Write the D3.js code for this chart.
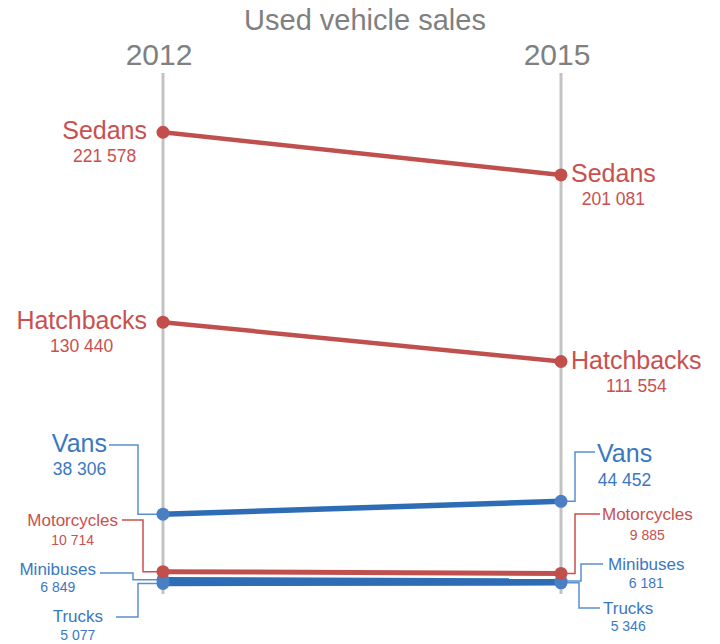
<!DOCTYPE html>
<html>
<head>
<meta charset="utf-8">
<script src="https://cdn.jsdelivr.net/npm/d3@7"></script>
<style>
  body { margin: 0; background: #fff; }
  svg { display: block; font-family: "Liberation Sans", Arial, sans-serif; }
</style>
</head>
<body>
<svg id="chart" width="720" height="644"></svg>
<script>
// data
var years = ["2012", "2015"];
var categories = ["Sedans", "Hatchbacks", "Vans", "Motorcycles", "Minibuses", "Trucks"];
var sales2012 = [221578, 130440, 38306, 10714, 6849, 5077];
var sales2015 = [201081, 111554, 44452, 9885, 6181, 5346];
var groups = ["car", "car", "van", "car", "van", "van"];

// styles / layout (not data)
var colors = { car: "#c0504d", van: "#2e6db5" };
var dotColors = { car: "#c24f4c", van: "#4a7fc4" };
var textColors = { car: "#c9504e", van: "#3a78c2" };
var leaderColors = { car: "#c9504e", van: "#5a8fd0" };
var lineWidths = [4.5, 4.5, 5.5, 5, 5.5, 5.5];
var nameSizes = [25, 25, 25, 17, 17, 17];
var valueSizes = [17.5, 17.5, 17.5, 14, 14, 14];
// leader callouts: ly = leader y, ex = elbow x, lx = leader end x, tx = text edge, nb/vb = baselines
var leftLeaders = {
  Vans:        { ly: 445, ex: 138, lx: 109, tx: 107, nb: 452, vb: 475 },
  Motorcycles: { ly: 520, ex: 143, lx: 122, tx: 118, nb: 526, vb: 545 },
  Minibuses:   { ly: 573, ex: 133, lx: 100, tx: 96,  nb: 575, vb: 592 },
  Trucks:      { ly: 617, ex: 138, lx: 116, tx: 103, nb: 622, vb: 640 }
};
var rightLeaders = {
  Vans:        { ly: 452, ex: 575, lx: 595, tx: 597, nb: 462, vb: 486 },
  Motorcycles: { ly: 514, ex: 575, lx: 600, tx: 602, nb: 520, vb: 540 },
  Minibuses:   { ly: 564, ex: 581, lx: 603, tx: 608, nb: 570, vb: 588 },
  Trucks:      { ly: 608, ex: 579, lx: 600, tx: 603, nb: 614, vb: 631 }
};

var svg = d3.select('#chart');
var x = d3.scalePoint().domain(years).range([163, 561]);
var y = d3.scaleLinear().domain([0, 250000]).range([594, 73]);
var fmt = function(v) { return d3.format(",")(v).replace(/,/g, " "); };

var series = categories.map(function(c, i) {
  return { name: c, group: groups[i], i: i, values: [sales2012[i], sales2015[i]] };
});

// title
svg.append('text')
  .attr('x', 365).attr('y', 30)
  .attr('text-anchor', 'middle')
  .attr('font-size', 29)
  .attr('fill', '#808080')
  .text('Used vehicle sales');

// year axes
var axes = svg.append('g');
years.forEach(function(yr) {
  axes.append('line')
    .attr('x1', x(yr)).attr('x2', x(yr))
    .attr('y1', y(250000)).attr('y2', y(0))
    .attr('stroke', '#c3c3c3').attr('stroke-width', 3);
  axes.append('text')
    .attr('x', x(yr) - 4).attr('y', 65)
    .attr('text-anchor', 'middle')
    .attr('font-size', 30)
    .attr('fill', '#808080')
    .text(yr);
});

// leaders
var leaderG = svg.append('g').attr('fill', 'none').attr('stroke-width', 1.5);
series.forEach(function(s) {
  [0, 1].forEach(function(k) {
    var L = (k === 0 ? leftLeaders : rightLeaders)[s.name];
    if (!L) return;
    var px = x(years[k]), py = y(s.values[k]);
    leaderG.append('path')
      .attr('d', `M${px},${py}H${L.ex}V${L.ly}H${L.lx}`)
      .attr('stroke', leaderColors[s.group]);
  });
});

// slope lines
var lineG = svg.append('g');
series.slice().reverse().forEach(function(s) {
  lineG.append('line')
    .attr('x1', x(years[0])).attr('y1', y(s.values[0]))
    .attr('x2', x(years[1])).attr('y2', y(s.values[1]))
    .attr('stroke', colors[s.group])
    .attr('stroke-width', lineWidths[s.i]);
});
series.slice().reverse().forEach(function(s) {
  lineG.selectAll(null).data(s.values).enter().append('circle')
    .attr('cx', function(d, k) { return x(years[k]); })
    .attr('cy', function(d) { return y(d); })
    .attr('r', 6.5)
    .attr('fill', dotColors[s.group]);
});

// labels
var labelG = svg.append('g');
function addLabel(s, k) {
  var leaders = k === 0 ? leftLeaders : rightLeaders;
  var L = leaders[s.name];
  var px = x(years[k]), py = y(s.values[k]);
  var tx, nb, vb;
  if (L) { tx = L.tx; nb = L.nb; vb = L.vb; }
  else { tx = k === 0 ? px - 16 : px + 10; nb = py + 7; vb = py + 30; }
  var name = labelG.append('text')
    .attr('x', tx).attr('y', nb)
    .attr('text-anchor', k === 0 ? 'end' : 'start')
    .attr('font-size', nameSizes[s.i])
    .attr('fill', textColors[s.group])
    .text(s.name);
  var w = name.node().getComputedTextLength();
  var cx = k === 0 ? tx - w / 2 : tx + w / 2;
  labelG.append('text')
    .attr('x', cx).attr('y', vb)
    .attr('text-anchor', 'middle')
    .attr('font-size', valueSizes[s.i])
    .attr('fill', textColors[s.group])
    .text(fmt(s.values[k]));
}
series.forEach(function(s) { addLabel(s, 0); addLabel(s, 1); });
</script>
</body>
</html>
